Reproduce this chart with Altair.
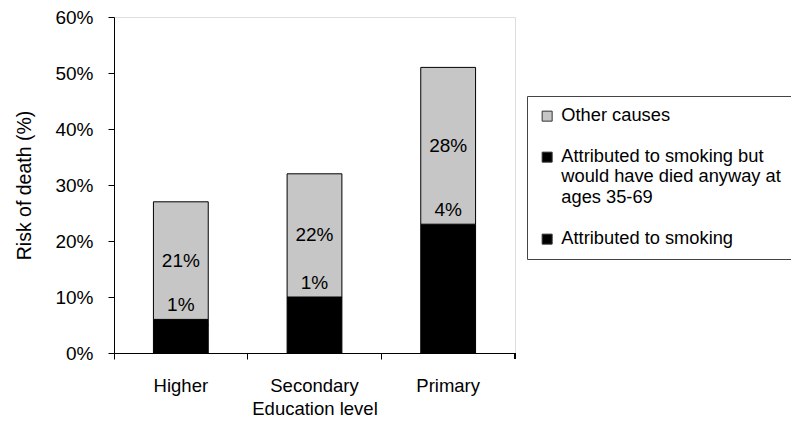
import altair as alt
import pandas as pd

levels = ["Higher", "Secondary", "Primary"]
series = [
    "Other causes",
    "Attributed to smoking but would have died anyway at ages 35-69",
    "Attributed to smoking",
]
smoking = [5, 9, 19]
anyway = [1, 1, 4]
other = [21, 22, 28]
anyway_labels = ["1%", "1%", "4%"]
other_labels = ["21%", "22%", "28%"]

rows = []
for i, lv in enumerate(levels):
    s0 = 0
    s1 = s0 + smoking[i]
    s2 = s1 + anyway[i]
    s3 = s2 + other[i]
    rows.append(dict(level=lv, series=series[2], start=s0, end=s1))
    rows.append(dict(level=lv, series=series[1], start=s1, end=s2))
    rows.append(dict(level=lv, series=series[0], start=s2, end=s3))
bars = pd.DataFrame(rows)

lab_rows = []
for i, lv in enumerate(levels):
    s2 = smoking[i] + anyway[i]
    lab_rows.append(dict(level=lv, y=s2, text=anyway_labels[i], kind="mid"))
    lab_rows.append(dict(level=lv, y=s2 + other[i] / 2, text=other_labels[i], kind="top"))
labels = pd.DataFrame(lab_rows)

FONT = "Liberation Sans"

x_enc = alt.X(
    "level:N",
    sort=levels,
    scale=alt.Scale(paddingInner=0, paddingOuter=0),
    axis=alt.Axis(
        title="Education level",
        labelAngle=0,
        bandPosition=0,
        labelOffset=0,
        tickSize=6,
        tickColor="black",
        domainColor="black",
        labelFontSize=18.5,
        titleFontSize=18.5,
        labelPadding=17,
        titlePadding=5,
        labelColor="black",
        titleColor="black",
        labelFont=FONT,
        titleFont=FONT,
        titleFontWeight="normal",
    ),
)

y_scale = alt.Scale(domain=[0, 60], nice=False)

bar_layer = alt.Chart(bars).mark_bar(
    width={"band": 0.41}, stroke="black", strokeWidth=1
).encode(
    x=x_enc,
    y=alt.Y(
        "start:Q",
        scale=y_scale,
        axis=alt.Axis(
            title="Risk of death (%)",
            values=[0, 10, 20, 30, 40, 50, 60],
            labelExpr="datum.value + '%'",
            grid=False,
            tickSize=6,
            tickColor="black",
            domainColor="black",
            labelFontSize=19,
            titleFontSize=19.5,
            labelPadding=15,
            titlePadding=20,
            labelColor="black",
            titleColor="black",
            labelFont=FONT,
            titleFont=FONT,
            titleFontWeight="normal",
        ),
    ),
    y2="end:Q",
    color=alt.Color(
        "series:N",
        scale=alt.Scale(domain=series, range=["#c6c6c6", "#000000", "#000000"]),
        legend=alt.Legend(
            title=None,
            orient="none",
            legendX=413,
            legendY=79,
            symbolType="square",
            symbolSize=100,
            symbolStrokeColor="#333333",
            symbolStrokeWidth=1,
            labelFontSize=18.3,
            labelFont=FONT,
            labelColor="black",
            labelLimit=300,
            labelOffset=5,
            rowPadding=22,
            padding=11,
            strokeColor="#444444",
            fillColor="white",
            labelExpr="datum.label == 'Attributed to smoking but would have died anyway at ages 35-69' ? ['Attributed to smoking but', 'would have died anyway at', 'ages 35-69'] : datum.label",
        ),
    ),
)

mid_text = alt.Chart(labels).transform_filter("datum.kind == 'mid'").mark_text(
    fontSize=19, font=FONT, color="black", baseline="middle", dy=-14
).encode(x=alt.X("level:N", sort=levels), y=alt.Y("y:Q", scale=y_scale), text="text:N")

top_text = alt.Chart(labels).transform_filter("datum.kind == 'top'").mark_text(
    fontSize=19, font=FONT, color="black", baseline="middle"
).encode(x=alt.X("level:N", sort=levels), y=alt.Y("y:Q", scale=y_scale), text="text:N")

end_tick = alt.Chart(bars).mark_rule(color="black").encode(
    x=alt.value(401), y=alt.value(336), y2=alt.value(342)
)

chart = alt.layer(bar_layer, mid_text, top_text, end_tick).properties(
    width=401,
    height=336,
    autosize=alt.AutoSizeParams(type="none"),
    padding={"left": 106, "top": 9, "right": 276, "bottom": 71},
).configure_view(stroke=None).configure(background="white")

chart.save("out.html", embed_options={"renderer": "svg", "actions": False})
